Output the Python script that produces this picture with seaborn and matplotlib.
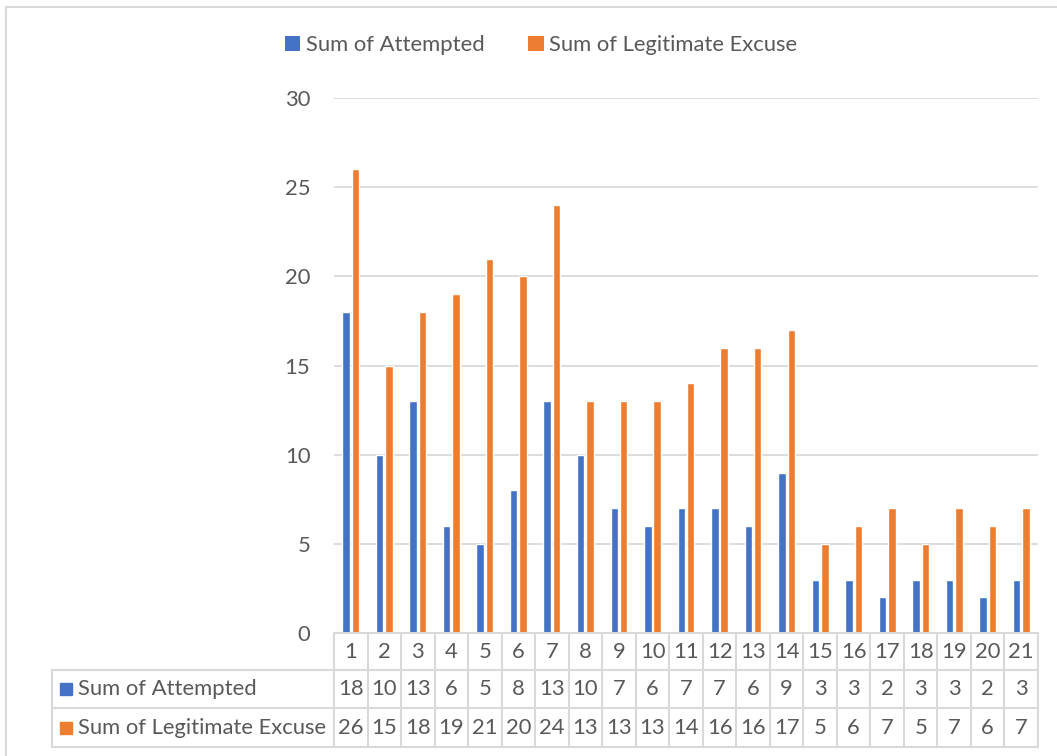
import numpy as np
import pandas as pd
import matplotlib
matplotlib.use("Agg")
import matplotlib.pyplot as plt
import matplotlib.transforms as mtrans
from matplotlib.lines import Line2D
from matplotlib.patches import Patch
import seaborn as sns

categories = [str(i) for i in range(1, 22)]
attempted = [18, 10, 13, 6, 5, 8, 13, 10, 7, 6, 7, 7, 6, 9, 3, 3, 2, 3, 3, 2, 3]
legit = [26, 15, 18, 19, 21, 20, 24, 13, 13, 13, 14, 16, 16, 17, 5, 6, 7, 5, 7, 6, 7]
series = ["Sum of Attempted", "Sum of Legitimate Excuse"]
colors = ["#4472C4", "#ED7D31"]

df = pd.DataFrame({
    "cat": categories * 2,
    "value": attempted + legit,
    "series": [series[0]] * len(categories) + [series[1]] * len(categories),
})

sns.set_style("white")
plt.rcParams["font.family"] = ["Lato", "DejaVu Sans"]
txt = "#595959"
grid = "#D9D9D9"
fs = 15.8

W, H = 1057, 756
fig = plt.figure(figsize=(W / 100, H / 100), dpi=100)
# axes area in pixels: x 334..1038, y 98..633
ax = fig.add_axes([334 / W, 1 - 633 / H, (1038 - 334) / W, (633 - 98) / H])

sns.barplot(data=df, x="cat", y="value", hue="series", palette=colors,
            width=0.56, gap=0.2, ax=ax, legend=False, saturation=1)

ax.set_ylim(0, 30)
ax.set_xlim(-0.5, len(categories) - 0.5)
ax.set_yticks(np.arange(0, 31, 5))
ax.yaxis.grid(True, color=grid, linewidth=1.3)
ax.set_axisbelow(True)
for s in ax.spines.values():
    s.set_visible(False)
ax.tick_params(axis="y", length=0, pad=17, labelsize=fs, labelcolor=txt)
ax.set_xticks([])
ax.set_xlabel("")
ax.set_ylabel("")

# data table under the chart
tr = mtrans.blended_transform_factory(ax.transData, ax.transAxes)
ax_h = 633 - 98
col_w = (1038 - 334) / len(categories)
rows_px = [633, 670, 708, 747]
rows_y = [-(p - 633) / ax_h for p in rows_px]
x_left = -0.5 - (334 - 52) / col_w
x_right = len(categories) - 0.5
tcol = "#D9D9D9"
lw = 1.5

def hline(x0, x1, y):
    ax.add_line(Line2D([x0, x1], [y, y], transform=tr, color=tcol, lw=lw, clip_on=False))

def vline(x, y0, y1):
    ax.add_line(Line2D([x, x], [y0, y1], transform=tr, color=tcol, lw=lw, clip_on=False))

hline(-0.5, x_right, rows_y[0])
for y in rows_y[1:]:
    hline(x_left, x_right, y)
for i in range(len(categories) + 1):
    vline(i - 0.5, rows_y[0], rows_y[3])
vline(x_left, rows_y[1], rows_y[3])

ymid = [(rows_y[k] + rows_y[k + 1]) / 2 for k in range(3)]
for i, c in enumerate(categories):
    ax.text(i, ymid[0], c, transform=tr, ha="center", va="center", fontsize=fs, color=txt)
    ax.text(i, ymid[1], str(attempted[i]), transform=tr, ha="center", va="center", fontsize=fs, color=txt)
    ax.text(i, ymid[2], str(legit[i]), transform=tr, ha="center", va="center", fontsize=fs, color=txt)

for k, (name, col) in enumerate(zip(series, colors)):
    ax.plot([x_left + 14 / col_w], [ymid[k + 1]], marker="s", markersize=9, color=col,
            transform=tr, clip_on=False, linestyle="none")
    ax.text(x_left + 26 / col_w, ymid[k + 1], name, transform=tr, ha="left", va="center",
            fontsize=fs, color=txt)

# legend on top
handles = [Patch(facecolor=c, edgecolor="none") for c in colors]
fig.legend(handles, series, loc="center", bbox_to_anchor=(541 / W, 1 - 45 / H), ncol=2,
           frameon=False, fontsize=fs, labelcolor=txt, handlelength=0.7, handleheight=0.7,
           handletextpad=0.25, columnspacing=2.0)

# chart border (left and top visible)
fig.add_artist(Line2D([6 / W, 6 / W], [0, 1 - 7 / H], transform=fig.transFigure, color=tcol, lw=1.5))
fig.add_artist(Line2D([6 / W, 1], [1 - 7 / H, 1 - 7 / H], transform=fig.transFigure, color=tcol, lw=1.5))

fig.savefig("out.png", dpi=100, facecolor="white")
